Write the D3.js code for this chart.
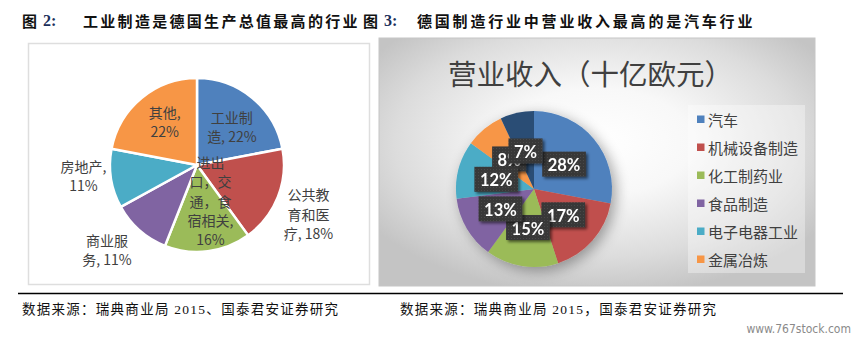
<!DOCTYPE html>
<html>
<head>
<meta charset="utf-8">
<script src="https://cdn.jsdelivr.net/npm/d3@7/dist/d3.min.js"></script>
<style>
  html, body { margin: 0; padding: 0; background: #fff; }
  svg { display: block; }
</style>
</head>
<body>
<svg id="chart" width="857" height="342"></svg>
<script>
// ---- Figure 2: share of German GDP by sector ----
const gdpCategories = ["工业制造", "公共教育和医疗", "进出口，交通，食宿相关", "商业服务", "房地产", "其他"];
const gdpShares = [22, 18, 16, 11, 11, 22];

// ---- Figure 3: manufacturing revenue split (EUR bn) ----
const revenueCategories = ["汽车", "机械设备制造", "化工制药业", "食品制造", "电子电器工业", "金属冶炼", "其他制造"];
const revenueShares = [28, 17, 15, 13, 12, 8, 7];

// ---- Text ----
const figure2Title = "工业制造是德国生产总值最高的行业";
const figure3Title = "德国制造行业中营业收入最高的是汽车行业";
const revenueChartTitle = "营业收入（十亿欧元）";
const sourceNotes = ["数据来源：瑞典商业局 2015、国泰君安证券研究", "数据来源：瑞典商业局 2015，国泰君安证券研究"];
const watermark = "www.767stock.com";

const officeColors = ["#4f81bd", "#c0504d", "#9bbb59", "#8064a2", "#4bacc6", "#f79646", "#2c4d75"];
const cjk = "'Noto Sans CJK SC', 'Noto Sans', sans-serif";

const svg = d3.select("#chart");
const defs = svg.append("defs");

// ---------- headings ----------
function heading(x, num, text) {
  const g = svg.append("g").attr("font-family", cjk).attr("font-weight", 700)
    .attr("font-size", 15).attr("fill", "#111");
  g.append("text").attr("x", x).attr("y", 20).attr("dominant-baseline", "central").text("图");
  g.append("text").attr("x", x + 21).attr("y", 20).attr("dominant-baseline", "central")
    .attr("fill", "#1b2f5b").attr("font-family", "'Liberation Serif', serif").attr("font-size", 16).text(num + ":");
  return g;
}
heading(22, "2").append("text").attr("x", 83).attr("y", 20).attr("dominant-baseline", "central")
  .attr("letter-spacing", 2.3).text(figure2Title);
heading(363, "3").append("text").attr("x", 417).attr("y", 20).attr("dominant-baseline", "central")
  .attr("letter-spacing", 2.8).text(figure3Title);

// ---------- left panel ----------
svg.append("rect").attr("x", 28.5).attr("y", 43.5).attr("width", 341).attr("height", 241)
  .attr("fill", "#fff").attr("stroke", "#dedede").attr("stroke-width", 1.5);

const leftR = 87;
const leftCenter = [197, 165];
const pie = d3.pie().sort(null).value(d => d);
const gdpArcs = pie(gdpShares);
const leftArc = d3.arc().innerRadius(0).outerRadius(leftR);

const leftG = svg.append("g").attr("transform", `translate(${leftCenter})`);
leftG.selectAll("path").data(gdpArcs).join("path")
  .attr("d", leftArc)
  .attr("fill", (d, i) => officeColors[i])
  .attr("stroke", "#fff").attr("stroke-width", 2.5).attr("stroke-linejoin", "round");

// label wrapping (characters per line) and placement (radius, nudge) per slice
const gdpWrap = [[3], [3, 3], [2, 3, 3, 4], [3], [4], [3]];
const gdpLabelPlace = [
  { r: 50, dx: 3, dy: 0 },
  { r: 121, dx: -1, dy: 4 },
  { r: 36, dx: 9, dy: 0 },
  { r: 118, dx: -12, dy: -4 },
  { r: 113, dx: -2, dy: -7 },
  { r: 54, dx: 2, dy: -2 }
];
function wrapLines(str, counts) {
  const chars = Array.from(str);
  const lines = [];
  let p = 0;
  counts.forEach(c => { lines.push(chars.slice(p, p + c).join("")); p += c; });
  lines.push(chars.slice(p).join("").trim());
  return lines;
}
const lineH = 19.3;
gdpArcs.forEach((a, i) => {
  const pl = gdpLabelPlace[i];
  const c = d3.arc().innerRadius(pl.r).outerRadius(pl.r).centroid(a);
  const lines = wrapLines(`${gdpCategories[i]}, ${gdpShares[i]}%`, gdpWrap[i]);
  const t = leftG.append("text")
    .attr("font-family", cjk).attr("font-size", 14).attr("fill", "#404040")
    .attr("text-anchor", "middle");
  const y0 = c[1] + pl.dy - (lines.length - 1) * lineH / 2;
  lines.forEach((ln, k) => {
    t.append("tspan").attr("x", c[0] + pl.dx).attr("y", y0 + k * lineH)
      .attr("dominant-baseline", "central").text(ln);
  });
});

// ---------- right panel ----------
const bg = defs.append("radialGradient").attr("id", "panelBg")
  .attr("cx", 0.5).attr("cy", 0.42).attr("r", 0.62);
bg.append("stop").attr("offset", 0).attr("stop-color", "#ffffff");
bg.append("stop").attr("offset", 0.35).attr("stop-color", "#f8f8f8");
bg.append("stop").attr("offset", 0.75).attr("stop-color", "#dcdcdc");
bg.append("stop").attr("offset", 1).attr("stop-color", "#c4c4c4");

svg.append("rect").attr("x", 379).attr("y", 38).attr("width", 436).attr("height", 248)
  .attr("fill", "url(#panelBg)").attr("stroke", "#c6c6c6").attr("stroke-width", 1);

svg.append("text").attr("x", 448).attr("y", 72).attr("dominant-baseline", "central")
  .attr("font-family", cjk).attr("font-size", 28.5).attr("fill", "#404040")
  .text(revenueChartTitle);

const pieShadow = defs.append("filter").attr("id", "pieShadow")
  .attr("x", -0.3).attr("y", -0.3).attr("width", 1.6).attr("height", 1.6);
pieShadow.append("feGaussianBlur").attr("in", "SourceAlpha").attr("stdDeviation", 7).attr("result", "b");
pieShadow.append("feOffset").attr("in", "b").attr("dx", 4).attr("dy", 4).attr("result", "o");
pieShadow.append("feComponentTransfer").attr("in", "o").attr("result", "s")
  .append("feFuncA").attr("type", "linear").attr("slope", 0.35);
const pm = pieShadow.append("feMerge");
pm.append("feMergeNode").attr("in", "s");
pm.append("feMergeNode").attr("in", "SourceGraphic");

const boxShadow = defs.append("filter").attr("id", "boxShadow")
  .attr("x", -0.3).attr("y", -0.3).attr("width", 1.6).attr("height", 1.6);
boxShadow.append("feGaussianBlur").attr("in", "SourceAlpha").attr("stdDeviation", 1.5).attr("result", "b");
boxShadow.append("feOffset").attr("in", "b").attr("dx", 2).attr("dy", 2).attr("result", "o");
boxShadow.append("feComponentTransfer").attr("in", "o").attr("result", "s")
  .append("feFuncA").attr("type", "linear").attr("slope", 0.55);
const bm = boxShadow.append("feMerge");
bm.append("feMergeNode").attr("in", "s");
bm.append("feMergeNode").attr("in", "SourceGraphic");

const dots = defs.append("pattern").attr("id", "dotFill").attr("patternUnits", "userSpaceOnUse")
  .attr("width", 3).attr("height", 3);
dots.append("rect").attr("width", 3).attr("height", 3).attr("fill", "#393939");
dots.append("rect").attr("x", 1).attr("y", 1).attr("width", 1).attr("height", 1).attr("fill", "#4a4a4a");

const rightR = 78;
const rightCenter = [534, 189];
const revArcs = pie(revenueShares);
const rightArc = d3.arc().innerRadius(0).outerRadius(rightR);
const rightG = svg.append("g").attr("transform", `translate(${rightCenter})`);
rightG.append("g").attr("filter", "url(#pieShadow)")
  .selectAll("path").data(revArcs).join("path")
  .attr("d", rightArc)
  .attr("fill", (d, i) => officeColors[i]);

// data labels at the slice centroids; stacking order as drawn by the chart
const labelOrder = [0, 1, 2, 3, 5, 4, 6];
const labelG = rightG.append("g");
labelOrder.forEach(i => {
  const [cx, cy] = rightArc.centroid(revArcs[i]);
  const g = labelG.append("g").attr("filter", "url(#boxShadow)");
  const rect = g.append("rect").attr("fill", "url(#dotFill)");
  const t = g.append("text").attr("x", cx).attr("y", cy + 1)
    .attr("text-anchor", "middle").attr("dominant-baseline", "central")
    .attr("font-family", "Lato, 'Open Sans', sans-serif").attr("font-weight", 700)
    .attr("font-size", 16.5).attr("fill", "#fff")
    .text(revenueShares[i] + "%");
  const w = t.node().getComputedTextLength() + 11;
  rect.attr("x", cx - w / 2).attr("y", cy - 12.5).attr("width", w).attr("height", 25);
});

// legend (six visible entries)
const legendCount = 6;
svg.append("rect").attr("x", 688).attr("y", 105).attr("width", 117).attr("height", 168)
  .attr("fill", "#ffffff").attr("fill-opacity", 0.35);
const legendY = d3.scalePoint().domain(d3.range(legendCount)).range([119, 259]);
const lg = svg.append("g").selectAll("g").data(revenueCategories.slice(0, legendCount)).join("g")
  .attr("transform", (d, i) => `translate(697, ${legendY(i)})`);
lg.append("rect").attr("x", 0).attr("y", -3.5).attr("width", 7.5).attr("height", 7.5)
  .attr("fill", (d, i) => officeColors[i]);
lg.append("text").attr("x", 11).attr("y", 0).attr("dominant-baseline", "central")
  .attr("font-family", cjk).attr("font-size", 15).attr("fill", "#404040").text(d => d);

// ---------- footer ----------
svg.append("line").attr("x1", 18).attr("x2", 843).attr("y1", 293.5).attr("y2", 293.5)
  .attr("stroke", "#000").attr("stroke-width", 1.3);
[22, 400].forEach((x, i) => {
  svg.append("text").attr("x", x).attr("y", 309).attr("dominant-baseline", "central")
    .attr("font-family", "'Liberation Serif', 'Noto Sans CJK SC', serif").attr("font-size", 13.5)
    .attr("fill", "#111").attr("textLength", 316).attr("lengthAdjust", "spacing")
    .text(sourceNotes[i]);
});
svg.append("text").attr("x", 851).attr("y", 329).attr("text-anchor", "end")
  .attr("dominant-baseline", "central").attr("font-family", "'DejaVu Sans Condensed', 'Liberation Sans Narrow', sans-serif")
  .attr("font-size", 12).attr("fill", "#8a8a8a").text(watermark);
</script>
</body>
</html>
